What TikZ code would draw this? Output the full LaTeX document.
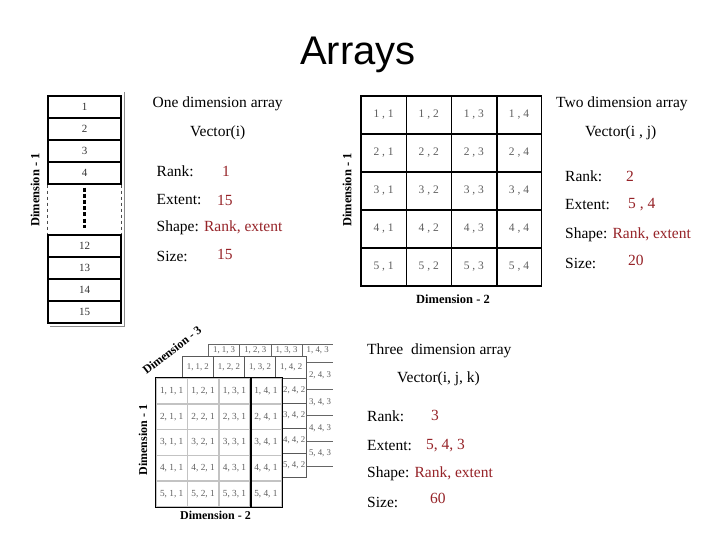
\documentclass[tikz,border=0pt]{standalone}
\usepackage{fontspec}
\setmainfont{Liberation Serif}
\newfontfamily\titlefont{Liberation Sans}
\definecolor{valred}{RGB}{150,35,40}
\definecolor{celltxt}{RGB}{95,95,95}
\definecolor{lightline}{RGB}{195,195,195}
\begin{document}
\begin{tikzpicture}[x=1pt,y=-1pt,
  lbl/.style={anchor=west,inner sep=0pt,font=\fontsize{15.5}{18}\selectfont},
  val/.style={lbl,text=valred},
  dimlbl/.style={inner sep=0pt,font=\fontsize{12.5}{14}\selectfont\bfseries},
  onecell/.style={draw,line width=1.1pt,minimum width=73pt,minimum height=22pt,inner sep=0pt,
    text=black!80,font=\fontsize{11}{12}\selectfont},
  twocell/.style={draw,line width=1.1pt,minimum width=45.15pt,minimum height=38pt,inner sep=0pt,
    text=celltxt,font=\fontsize{11.5}{12}\selectfont},
  threetxt/.style={inner sep=0pt,text=celltxt,font=\fontsize{8.8}{10}\selectfont},
  midcell/.style={draw=black!65,fill=white,line width=0.8pt,minimum width=31.1pt,inner sep=0pt},
  frontcell/.style={draw=lightline,fill=white,line width=1.6pt,minimum width=31.4pt,minimum height=25.8pt,inner sep=0pt,
    text=celltxt,font=\fontsize{9.3}{10}\selectfont}
]
\useasboundingbox[fill=white] (0,0) rectangle (720,540);

% title
\node[anchor=base,inner sep=0pt,font=\titlefont\fontsize{40}{44}\selectfont] (title) at (358,65) {Arrays};

% ---------- one dimension array ----------
\foreach \n/\yc in {1/107,2/129,3/151,4/173}
  \node[onecell] (c\n) at (84.5,\yc) {\n};
\foreach \n/\yc in {12/246,13/268,14/290,15/312}
  \node[onecell] (c\n) at (84.5,\yc) {\n};
\draw[dashed,black!70,line width=0.8pt] (c4.south west) -- (c12.north west);
\draw[dashed,black!70,line width=0.8pt] (c4.south east) -- (c12.north east);
\draw[line width=2.4pt,dash pattern=on 4pt off 2.2pt] ([yshift=-3pt]c4.south) -- ([yshift=6pt]c12.north);
\draw[black!45,line width=1pt] ([shift={(2.5pt,3pt)}]c1.north east) -- ([shift={(2.5pt,-2.5pt)}]c15.south east) -- ([shift={(3pt,-2.5pt)}]c15.south west);
\node[dimlbl,rotate=90] (d1a) at (35,190) {Dimension - 1};

\node[lbl] (t1) at (152.5,104) {One dimension array};
\node[lbl] (v1) at (190,133) {Vector(i)};
\node[lbl] (r1) at (156.5,171) {Rank:};
\node[val] (r1v) at (222,171) {1};
\node[lbl] (e1) at (156.5,200) {Extent:};
\node[val] (e1v) at (217,200) {15};
\node[lbl] (s1) at (156.5,228) {Shape: \textcolor{valred}{Rank, extent}};
\node[lbl] (z1) at (156.5,256) {Size:};
\node[val] (z1v) at (217,254) {15};

% ---------- two dimension array ----------
\foreach \i in {1,...,5}
  \foreach \j in {1,...,4}
    \node[twocell] (g\i\j) at ({361+45.15*(\j-0.5)},{96+38*(\i-0.5)}) {\i\ ,\ \j};
\draw[line width=2pt] (g13.north east) -- (g53.south east);
\node[dimlbl,rotate=90] (d2a) at (347,190) {Dimension - 1};
\node[dimlbl] (d2b) at (453,299) {Dimension - 2};

\node[lbl] (t2) at (556,104) {Two dimension array};
\node[lbl] (v2) at (585,133) {Vector(i , j)};
\node[lbl] (r2) at (565,176) {Rank:};
\node[val] (r2v) at (626,176) {2};
\node[lbl] (e2) at (565,205) {Extent:};
\node[val] (e2v) at (628,205) {5 , 4};
\node[lbl] (s2) at (565,235) {Shape: \textcolor{valred}{Rank, extent}};
\node[lbl] (z2) at (565,263) {Size:};
\node[val] (z2v) at (628,260) {20};

% ---------- three dimension array ----------
% back layer (k = 3)
\begin{scope}[black!60,line width=0.8pt]
  \draw (208.5,362) -- (208.5,344) -- (333.3,344);
  \foreach \xx in {239.7,270.9,302.1}
    \draw (\xx,344) -- (\xx,362);
  \foreach \yy in {362,389,415,441,466}
    \draw (208.5,\yy) -- (333.3,\yy);
\end{scope}
\foreach \j in {1,...,4}
  \node[threetxt] (b1\j) at ({208.5+31.2*(\j-0.5)},350.5) {1, \j, 3};
\foreach \i/\yc in {2/375.5,3/402,4/428,5/453.5}
  \node[threetxt] (b\i4) at (320,\yc) {\i, 4, 3};
% middle layer (k = 2)
\foreach \i/\ya/\yb in {1/356/378,2/378/403,3/403/428,4/428/453,5/453/477}
  \foreach \j in {1,...,4}
    \node[midcell,minimum height={(\yb-\ya)*1pt}] (m\i\j) at ({182.3+31.1*(\j-0.5)},{(\ya+\yb)/2}) {};
\foreach \j in {1,...,4}
  \node[threetxt] (mt1\j) at (m1\j) {1, \j, 2};
\foreach \i in {2,...,5}
  \node[threetxt] (mt\i4) at ([xshift=3pt]m\i4.center) {\i, 4, 2};
% front layer (k = 1)
\foreach \i in {1,...,5}
  \foreach \j in {1,...,4}
    \node[frontcell] (f\i\j) at ({156+31.4*(\j-0.5)},{378+25.8*(\i-0.5)}) {\i, \j, 1};
\draw[line width=1.3pt] (f11.north west) rectangle (f54.south east);
\draw[line width=1.3pt] (f13.north east) -- (f53.south east);

\node[dimlbl,rotate=38,font=\fontsize{12}{14}\selectfont\bfseries] (d3c) at (172,350) {Dimension - 3};
\node[dimlbl,rotate=90,font=\fontsize{12}{14}\selectfont\bfseries] (d3a) at (143,440) {Dimension - 1};
\node[dimlbl,font=\fontsize{12}{14}\selectfont\bfseries] (d3b) at (215.5,515) {Dimension - 2};

\node[lbl] (t3) at (367,351) {Three\ \ dimension array};
\node[lbl] (v3) at (397,379) {Vector(i, j, k)};
\node[lbl] (r3) at (367,416) {Rank:};
\node[val] (r3v) at (431,415) {3};
\node[lbl] (e3) at (367,446) {Extent:};
\node[val] (e3v) at (426,446) {5, 4, 3};
\node[lbl] (s3) at (367,474) {Shape: \textcolor{valred}{Rank, extent}};
\node[lbl] (z3) at (367,502) {Size:};
\node[val] (z3v) at (430,498) {60};
\end{tikzpicture}
\end{document}
